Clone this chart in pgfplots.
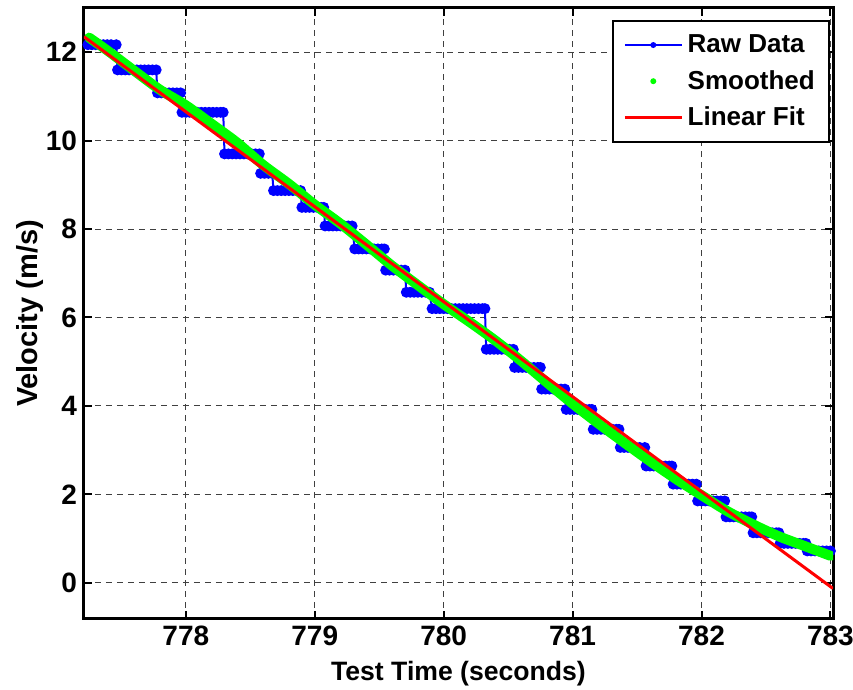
\documentclass[border=0pt]{standalone}
\usepackage{pgfplots}
\pgfplotsset{compat=1.18}
\usepackage{fontspec}
\setmainfont{Liberation Sans}
\definecolor{rawblue}{rgb}{0,0,1}
\definecolor{smgreen}{rgb}{0,1,0}
\definecolor{fitred}{rgb}{1,0,0}
\begin{document}
\begin{tikzpicture}
\begin{axis}[
  name=ax,
  scale only axis,
  clip mode=individual,
  width=374.5pt, height=305.5pt,
  xmin=777.21, xmax=783.02,
  ymin=-0.82, ymax=13,
  xtick={778,779,780,781,782,783},
  ytick={0,2,4,6,8,10,12},
  /pgf/number format/assume math mode=true,
  xticklabel style={/pgf/number format/1000 sep={}},
  tick label style={font=\fontsize{14}{16}\selectfont\bfseries},
  xlabel={Test Time (seconds)},
  ylabel={Velocity (m/s)},
  xlabel style={font=\fontsize{13.3}{16}\selectfont\bfseries, at={(axis description cs:0.5,-0.0900)}, anchor=center},
  ylabel style={font=\fontsize{14.5}{17}\selectfont\bfseries, at={(axis description cs:-0.0721,0.5)}, anchor=center},
  axis line style={line width=1.5pt},
  tick align=inside,
  major tick length=4pt,
  tick style={line width=1pt, black},
  grid=major,
  major grid style={black!75, line width=0.5pt, dash pattern=on 3pt off 2.5pt},
  legend style={at={(axis description cs:1,1)}, anchor=north east, xshift=-1.3pt, yshift=-6pt,
    draw=black, line width=1.2pt, font=\fontsize{13}{15}\selectfont\bfseries,
    inner xsep=5pt, inner ysep=4.5pt, row sep=3pt, cells={anchor=west},
    nodes={inner sep=2.2pt}},
  legend cell align=left,
]
\addplot[rawblue, line width=1pt, mark=*, mark size=2.2pt, mark options={draw=none, fill=rawblue},
  legend image code/.code={\draw[rawblue, line width=1pt] (0pt,0pt) -- (28.5pt,0pt); \fill[rawblue, draw=none] (14.25pt,0pt) circle (1.5pt);}]
  table[row sep=\\] {
x y\\
777.24 12.17\\ 777.27 12.17\\ 777.30 12.17\\ 777.33 12.17\\ 777.36 12.17\\ 777.39 12.17\\ 777.42 12.17\\ 777.46 12.17\\
777.47 11.60\\ 777.50 11.60\\ 777.53 11.60\\ 777.56 11.60\\ 777.59 11.60\\ 777.62 11.60\\ 777.65 11.60\\ 777.68 11.60\\ 777.71 11.60\\ 777.74 11.60\\ 777.77 11.60\\
777.78 11.08\\ 777.81 11.08\\ 777.84 11.08\\ 777.87 11.08\\ 777.90 11.08\\ 777.93 11.08\\ 777.96 11.08\\
777.97 10.64\\ 778.00 10.64\\ 778.03 10.64\\ 778.06 10.64\\ 778.09 10.64\\ 778.12 10.64\\ 778.15 10.64\\ 778.18 10.64\\ 778.21 10.64\\ 778.24 10.64\\ 778.27 10.64\\ 778.29 10.64\\
778.30 9.70\\ 778.33 9.70\\ 778.36 9.70\\ 778.39 9.70\\ 778.42 9.70\\ 778.45 9.70\\ 778.48 9.70\\ 778.51 9.70\\ 778.54 9.70\\ 778.57 9.70\\
778.58 9.26\\ 778.61 9.26\\ 778.64 9.26\\ 778.67 9.26\\
778.68 8.87\\ 778.71 8.87\\ 778.74 8.87\\ 778.77 8.87\\ 778.80 8.87\\ 778.83 8.87\\ 778.86 8.87\\ 778.89 8.87\\
778.90 8.49\\ 778.93 8.49\\ 778.96 8.49\\ 778.99 8.49\\ 779.02 8.49\\ 779.05 8.49\\ 779.07 8.49\\
779.08 8.07\\ 779.11 8.07\\ 779.14 8.07\\ 779.17 8.07\\ 779.20 8.07\\ 779.23 8.07\\ 779.26 8.07\\ 779.29 8.07\\
779.31 7.55\\ 779.34 7.55\\ 779.37 7.55\\ 779.40 7.55\\ 779.43 7.55\\ 779.46 7.55\\ 779.49 7.55\\ 779.52 7.55\\ 779.54 7.55\\
779.55 7.07\\ 779.58 7.07\\ 779.61 7.07\\ 779.64 7.07\\ 779.67 7.07\\ 779.70 7.07\\
779.71 6.57\\ 779.74 6.57\\ 779.77 6.57\\ 779.80 6.57\\ 779.83 6.57\\ 779.86 6.57\\ 779.89 6.57\\
779.91 6.20\\ 779.94 6.20\\ 779.97 6.20\\ 780.00 6.20\\ 780.03 6.20\\ 780.06 6.20\\ 780.09 6.20\\ 780.12 6.20\\ 780.15 6.20\\ 780.18 6.20\\ 780.21 6.20\\ 780.24 6.20\\ 780.27 6.20\\ 780.30 6.20\\ 780.32 6.20\\
780.33 5.28\\ 780.36 5.28\\ 780.39 5.28\\ 780.42 5.28\\ 780.45 5.28\\ 780.48 5.28\\ 780.51 5.28\\ 780.54 5.28\\
780.55 4.87\\ 780.58 4.87\\ 780.61 4.87\\ 780.64 4.87\\ 780.67 4.87\\ 780.70 4.87\\ 780.73 4.87\\ 780.75 4.87\\
780.76 4.38\\ 780.79 4.38\\ 780.82 4.38\\ 780.85 4.38\\ 780.88 4.38\\ 780.91 4.38\\ 780.94 4.38\\
780.95 3.92\\ 780.98 3.92\\ 781.01 3.92\\ 781.04 3.92\\ 781.07 3.92\\ 781.10 3.92\\ 781.13 3.92\\ 781.15 3.92\\
781.16 3.47\\ 781.19 3.47\\ 781.22 3.47\\ 781.25 3.47\\ 781.28 3.47\\ 781.31 3.47\\ 781.34 3.47\\ 781.36 3.47\\
781.37 3.06\\ 781.40 3.06\\ 781.43 3.06\\ 781.46 3.06\\ 781.49 3.06\\ 781.52 3.06\\ 781.56 3.06\\
781.57 2.64\\ 781.60 2.64\\ 781.63 2.64\\ 781.66 2.64\\ 781.69 2.64\\ 781.72 2.64\\ 781.75 2.64\\ 781.77 2.64\\
781.78 2.23\\ 781.81 2.23\\ 781.84 2.23\\ 781.87 2.23\\ 781.90 2.23\\ 781.93 2.23\\ 781.96 2.23\\
781.97 1.85\\ 782.00 1.85\\ 782.03 1.85\\ 782.06 1.85\\ 782.09 1.85\\ 782.12 1.85\\ 782.15 1.85\\ 782.18 1.85\\
782.19 1.49\\ 782.22 1.49\\ 782.25 1.49\\ 782.28 1.49\\ 782.31 1.49\\ 782.34 1.49\\ 782.37 1.49\\ 782.39 1.49\\
782.40 1.13\\ 782.43 1.13\\ 782.46 1.13\\ 782.49 1.13\\ 782.52 1.13\\ 782.55 1.13\\ 782.58 1.13\\ 782.60 1.13\\
782.61 0.89\\ 782.64 0.89\\ 782.67 0.89\\ 782.70 0.89\\ 782.73 0.89\\ 782.76 0.89\\ 782.79 0.89\\ 782.81 0.89\\
782.82 0.72\\ 782.85 0.72\\ 782.88 0.72\\ 782.91 0.72\\ 782.94 0.72\\ 782.97 0.72\\ 783.00 0.72\\
};
\addlegendentry{Raw Data}
\addplot[smgreen, line width=5pt, line cap=round, line join=round, smooth,
  legend image code/.code={\fill[smgreen, draw=none] (14.25pt,0pt) circle (1.5pt);}]
  coordinates {
(777.25,12.33) (777.4,12.02) (777.6,11.58) (777.8,11.15) (778.0,10.80)
(778.2,10.38) (778.4,9.95) (778.6,9.45) (778.8,9.02) (779.0,8.55)
(779.2,8.12) (779.4,7.65) (779.6,7.17) (779.8,6.73) (780.0,6.30)
(780.2,5.90) (780.4,5.48) (780.6,5.02) (780.8,4.53) (781.0,4.05)
(781.2,3.60) (781.4,3.17) (781.6,2.75) (781.8,2.35) (782.0,1.98)
(782.2,1.62) (782.4,1.32) (782.6,1.05) (782.8,0.83) (783.0,0.61)
};
\addlegendentry{Smoothed}
\addplot[fitred, line width=1.5pt, legend image code/.code={\draw[fitred, line width=1.5pt] (0pt,0pt) -- (28.5pt,0pt);}]
  coordinates {(777.21,12.35) (783.02,-0.13)};
\addlegendentry{Linear Fit}
\end{axis}
\pgfresetboundingbox
\path[use as bounding box] ([shift={(-42pt,-35.5pt)}]ax.south west) rectangle ([shift={(384.5pt,309.5pt)}]ax.south west);
\end{tikzpicture}
\end{document}
